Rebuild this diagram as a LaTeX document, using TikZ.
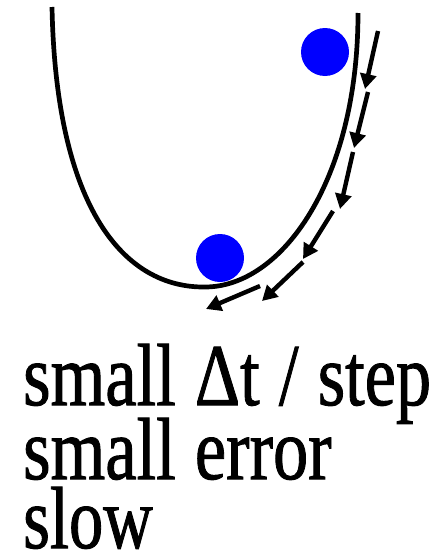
\documentclass[tikz,border=0pt]{standalone}
\usepackage{fontspec}
\setmainfont{Liberation Serif}[FakeBold=1.2]
\usetikzlibrary{arrows.meta}
\begin{document}
\begin{tikzpicture}[x=1pt,y=-1pt,
  ball/.style={circle,fill=blue,inner sep=0pt,minimum size=48pt},
  curve/.style={line width=4.7pt},
  movearrow/.style={line width=4.4pt,-{Triangle[length=15pt,width=16pt]}},
  label/.style={anchor=base west,inner sep=0pt,text height=62pt,text depth=0pt,
    font=\fontsize{88}{88}\selectfont}]
\useasboundingbox (0,0) rectangle (439,554);
\draw[curve] (52,7) .. controls (56,210) and (125,288) .. (205,287)
  .. controls (282,287) and (358,180) .. (358,13);
\node[ball] (b1) at (325,52) {};
\node[ball] (b2) at (220,258) {};
\coordinate (a0) at (378,31);
\coordinate (a1e) at (365,89);
\coordinate (a1s) at (368,92);
\coordinate (a2e) at (354,148);
\coordinate (a2s) at (353,152);
\coordinate (a3e) at (340,209);
\coordinate (a3s) at (333,211);
\coordinate (a4e) at (303,259);
\coordinate (a4s) at (303,262);
\coordinate (a5e) at (262,301);
\coordinate (a5s) at (260,286);
\coordinate (a6e) at (206,309);
\draw[movearrow] (a0) -- (a1e);
\draw[movearrow] (a1s) -- (a2e);
\draw[movearrow] (a2s) -- (a3e);
\draw[movearrow] (a3s) -- (a4e);
\draw[movearrow] (a4s) -- (a5e);
\draw[movearrow] (a5s) -- (a6e);
\node[label] (t1) at (23,405) {\scalebox{0.8}[1]{\spaceskip=24pt small Δt / step}};
\node[label] (t2) at (23,479) {\scalebox{0.8}[1]{\spaceskip=24pt small error}};
\node[label] (t3) at (23,548) {\scalebox{0.78}[1]{slow}};
\end{tikzpicture}
\end{document}
